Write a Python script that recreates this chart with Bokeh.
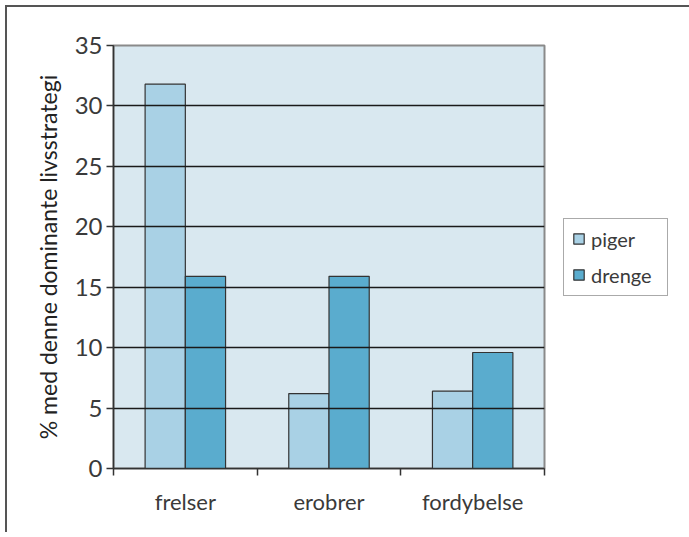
from bokeh.plotting import figure
from bokeh.models import ColumnDataSource, FixedTicker, Legend, LegendItem, Range1d
from bokeh.embed import file_html
from bokeh.resources import INLINE

categories = ["frelser", "erobrer", "fordybelse"]
series = ["piger", "drenge"]
piger = [31.8, 6.2, 6.4]
drenge = [15.9, 15.9, 9.6]
y_ticks = [0, 5, 10, 15, 20, 25, 30, 35]

FONT = "Lato"
TXT = "#3a3a3a"
colors = ["#a9d1e5", "#5aacce"]
bar_w = 0.28

centers = [i + 0.5 for i in range(len(categories))]
src_p = ColumnDataSource(dict(x=[c - bar_w / 2 for c in centers], top=piger))
src_d = ColumnDataSource(dict(x=[c + bar_w / 2 for c in centers], top=drenge))

p = figure(width=683, height=531, output_backend="svg", toolbar_location=None,
           x_range=Range1d(0, len(categories)), y_range=Range1d(0, 35),
           min_border_left=106, min_border_top=38, min_border_right=140, min_border_bottom=64,
           frame_width=431, frame_height=423)
p.styles = {"border-top": "2px solid #555555", "border-left": "2px solid #555555",
            "margin-left": "5px", "margin-top": "5px"}
p.background_fill_color = "#d9e8f0"
p.border_fill_color = "white"
p.outline_line_color = "#8a8a8a"
p.outline_line_width = 2

r1 = p.vbar(x="x", top="top", width=bar_w, source=src_p, fill_color=colors[0],
            line_color="#333333", line_width=1.2)
r2 = p.vbar(x="x", top="top", width=bar_w, source=src_d, fill_color=colors[1],
            line_color="#333333", line_width=1.2)

# grid
p.xgrid.visible = False
p.ygrid.ticker = FixedTicker(ticks=y_ticks[1:-1])
p.ygrid.grid_line_color = "#1a1a1a"
p.ygrid.grid_line_width = 1.5
p.ygrid.level = "glyph"

# y axis
p.yaxis.ticker = FixedTicker(ticks=y_ticks)
p.yaxis.axis_line_color = "#333333"
p.yaxis.axis_line_width = 1.5
p.yaxis.major_tick_out = 7
p.yaxis.major_tick_in = 0
p.yaxis.major_tick_line_color = "#333333"
p.yaxis.major_tick_line_width = 1.5
p.yaxis.minor_tick_line_color = None
p.yaxis.major_label_text_font = FONT
p.yaxis.major_label_text_font_size = "24px"
p.yaxis.major_label_text_color = TXT
p.yaxis.major_label_standoff = 4
p.yaxis.axis_label = "% med denne dominante livsstrategi"
p.yaxis.axis_label_text_font = FONT
p.yaxis.axis_label_text_font_size = "23px"
p.yaxis.axis_label_text_font_style = "normal"
p.yaxis.axis_label_text_color = "#222222"
p.yaxis.axis_label_standoff = 10

# x axis
p.xaxis.ticker = FixedTicker(ticks=centers, minor_ticks=list(range(len(categories) + 1)))
p.xaxis.major_label_overrides = {c: name for c, name in zip(centers, categories)}
p.xaxis.major_tick_out = 0
p.xaxis.major_tick_in = 0
p.xaxis.minor_tick_out = 7
p.xaxis.minor_tick_in = 0
p.xaxis.minor_tick_line_color = "#333333"
p.xaxis.minor_tick_line_width = 1.5
p.xaxis.axis_line_color = "#333333"
p.xaxis.axis_line_width = 1.5
p.xaxis.major_label_text_font = FONT
p.xaxis.major_label_text_font_size = "22px"
p.xaxis.major_label_text_color = TXT
p.xaxis.major_label_standoff = 12

legend = Legend(items=[LegendItem(label=series[0], renderers=[r1]),
                       LegendItem(label=series[1], renderers=[r2])],
                location="center_left")
legend.border_line_color = "#555555"
legend.border_line_width = 1.2
legend.background_fill_color = "white"
legend.background_fill_alpha = 1
legend.label_text_font = FONT
legend.label_text_font_size = "20px"
legend.label_text_color = TXT
legend.glyph_width = 13
legend.glyph_height = 13
legend.spacing = 12
legend.padding = 8
legend.margin = 19
legend.label_standoff = 6
legend.label_width = 68
p.add_layout(legend, "right")

open("out.html", "w").write(file_html(p, INLINE))
